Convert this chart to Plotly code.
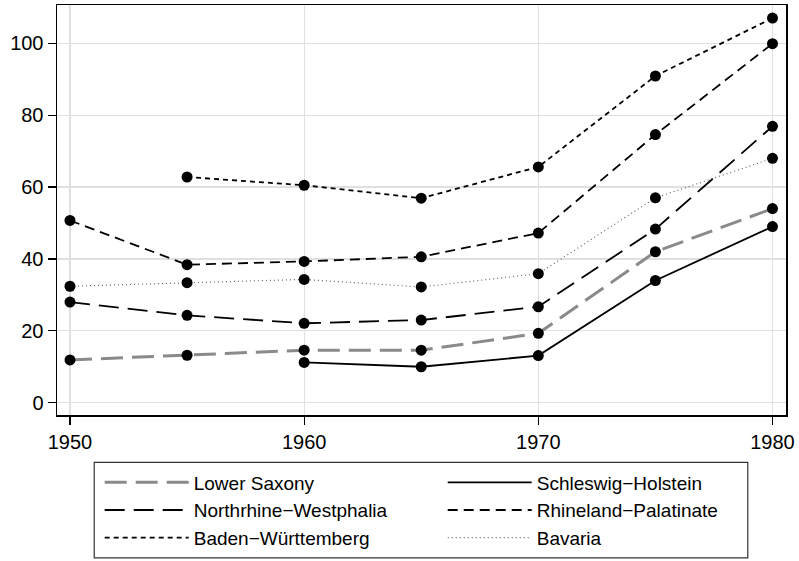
import plotly.graph_objects as go

years = [1950, 1955, 1960, 1965, 1970, 1975, 1980]
lower_saxony = [11.9, 13.2, 14.6, 14.6, 19.3, 42.0, 54.0]
schleswig_holstein = [None, None, 11.2, 10.0, 13.1, 34.0, 49.0]
northrhine_westphalia = [28.0, 24.3, 22.1, 23.0, 26.7, 48.3, 76.9]
rhineland_palatinate = [50.7, 38.4, 39.3, 40.6, 47.2, 74.6, 99.9]
baden_wuerttemberg = [None, 62.8, 60.5, 56.9, 65.6, 90.9, 107.0]
bavaria = [32.4, 33.4, 34.3, 32.2, 35.9, 57.0, 68.0]

x_ticks = [1950, 1960, 1970, 1980]
y_ticks = [0, 20, 40, 60, 80, 100]

series = [
    ("Lower Saxony", lower_saxony, "#8a8a8a", 3, "22px,9px"),
    ("Schleswig\u2212Holstein", schleswig_holstein, "#000000", 1.8, "solid"),
    ("Northrhine\u2212Westphalia", northrhine_westphalia, "#000000", 1.8, "20px,9px"),
    ("Rhineland\u2212Palatinate", rhineland_palatinate, "#000000", 1.8, "10px,6px"),
    ("Baden\u2212W\u00fcrttemberg", baden_wuerttemberg, "#000000", 1.8, "5px,4px"),
    ("Bavaria", bavaria, "#666666", 1.2, "1px,3px"),
]

fig = go.Figure()
for name, vals, color, width, dash in series:
    fig.add_trace(go.Scatter(
        x=years, y=vals, mode="lines", name=name,
        line=dict(color=color, width=width, dash=dash),
        connectgaps=False, hoverinfo="skip",
    ))
for name, vals, color, width, dash in series:
    fig.add_trace(go.Scatter(
        x=years, y=vals, mode="markers", showlegend=False,
        marker=dict(color="black", size=11, symbol="circle"),
        hoverinfo="skip",
    ))

W, H = 799, 561
L, R, T, B = 57.3, 12.8, 4.7, 146
pw = W - L - R
ph = H - T - B

def px2x(px):
    return (px - L) / pw

def px2y(py):
    return (H - B - py) / ph

fig.update_layout(
    width=W, height=H,
    margin=dict(l=L, r=R, t=T, b=B, pad=0, autoexpand=False),
    paper_bgcolor="white", plot_bgcolor="white",
    font=dict(family="Liberation Sans, Arial, sans-serif", size=20, color="black"),
    showlegend=True,
    hovermode=False,
    legend=dict(
        orientation="h",
        x=px2x(100), xanchor="left",
        y=px2y(463.5), yanchor="top",
        entrywidth=244, entrywidthmode="pixels",
        itemwidth=84,
        borderwidth=0,
        bgcolor="rgba(0,0,0,0)",
        font=dict(size=19),
        traceorder="normal",
    ),
    xaxis=dict(
        range=[1949.445, 1980.577],
        tickmode="array", tickvals=x_ticks, ticktext=[str(v) for v in x_ticks],
        showgrid=True, gridcolor="#e0e0e0", gridwidth=1.2,
        ticks="outside", ticklen=8, tickwidth=1.2, tickcolor="black",
        showline=True, linecolor="black", linewidth=1.5, mirror=True,
        zeroline=False, automargin=False,
    ),
    yaxis=dict(
        range=[-3.42, 110.65],
        tickmode="array", tickvals=y_ticks, ticktext=[str(v) for v in y_ticks],
        showgrid=True, gridcolor="#e0e0e0", gridwidth=1.2,
        ticks="outside", ticklen=8, tickwidth=1.2, tickcolor="black",
        showline=True, linecolor="black", linewidth=1.5, mirror=True,
        zeroline=False, automargin=False,
    ),
    shapes=[dict(
        type="rect", xref="paper", yref="paper",
        x0=px2x(94.5), x1=px2x(748), y0=px2y(558), y1=px2y(462.5),
        line=dict(color="#333333", width=1.2), fillcolor="rgba(0,0,0,0)",
        layer="above",
    )],
)

fig.write_html(
    "out.html",
    config={"displayModeBar": False, "staticPlot": True},
    post_script="document.body.style.margin='0';document.body.style.padding='0';document.body.style.overflow='hidden';",
)
